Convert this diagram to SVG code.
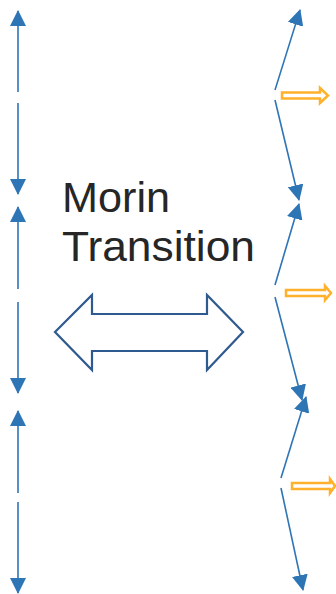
<svg xmlns="http://www.w3.org/2000/svg" width="336" height="594" viewBox="0 0 336 594">
<defs>
<marker id="ah" markerUnits="userSpaceOnUse" markerWidth="16" markerHeight="16" refX="15" refY="8" orient="auto">
<path d="M0,0 L16,8 L0,16 z" fill="#2E75B6"/>
</marker>
<style>
.ax{stroke:#2E75B6;stroke-width:1.6;fill:none;marker-end:url(#ah)}
.ho{fill:#fff;stroke:#FFB12C;stroke-width:2.5}
.big{fill:#fff;stroke:#2F5A8F;stroke-width:2.2;stroke-linejoin:miter}
.lbl{font-family:"Liberation Sans",Arial,sans-serif;font-size:42px;fill:#262626}
</style>
</defs>
<rect width="336" height="594" fill="#fff"/>
<g id="connectors">
<line class="ax" x1="18" y1="92" x2="18" y2="11"/>
<line class="ax" x1="18" y1="103" x2="18" y2="194"/>
<line class="ax" x1="18" y1="289" x2="18" y2="207"/>
<line class="ax" x1="18" y1="302" x2="18" y2="393"/>
<line class="ax" x1="18" y1="493" x2="18" y2="411"/>
<line class="ax" x1="18" y1="502" x2="18" y2="593"/>
<line class="ax" x1="275" y1="90" x2="300" y2="10"/>
<line class="ax" x1="275" y1="100" x2="299" y2="200"/>
<line class="ax" x1="275" y1="285" x2="299" y2="204"/>
<line class="ax" x1="275" y1="297" x2="302" y2="400"/>
<line class="ax" x1="281" y1="478" x2="306" y2="397"/>
<line class="ax" x1="281" y1="488" x2="303" y2="590"/>
</g>
<g id="orange1"><path class="ho" d="M282,92.5 H320 V88 L328,95.5 L320,103 V98.5 H282 Z"/></g>
<g id="orange2"><path class="ho" d="M286,290 H325 V286 L331,293 L325,300 V296 H286 Z"/></g>
<g id="orange3"><path class="ho" d="M292,483 H330 V479 L335,486 L330,493 V489 H292 Z"/></g>
<g id="double-arrow"><path class="big" d="M55,332 L92,295 V314 H207 V295 L243,332 L207,370 V351 H92 V370 Z"/></g>
<g id="label">
<text class="lbl" x="62" y="212" textLength="108" lengthAdjust="spacingAndGlyphs">Morin</text>
<text class="lbl" x="62" y="261" textLength="193" lengthAdjust="spacingAndGlyphs">Transition</text>
</g>
</svg>
